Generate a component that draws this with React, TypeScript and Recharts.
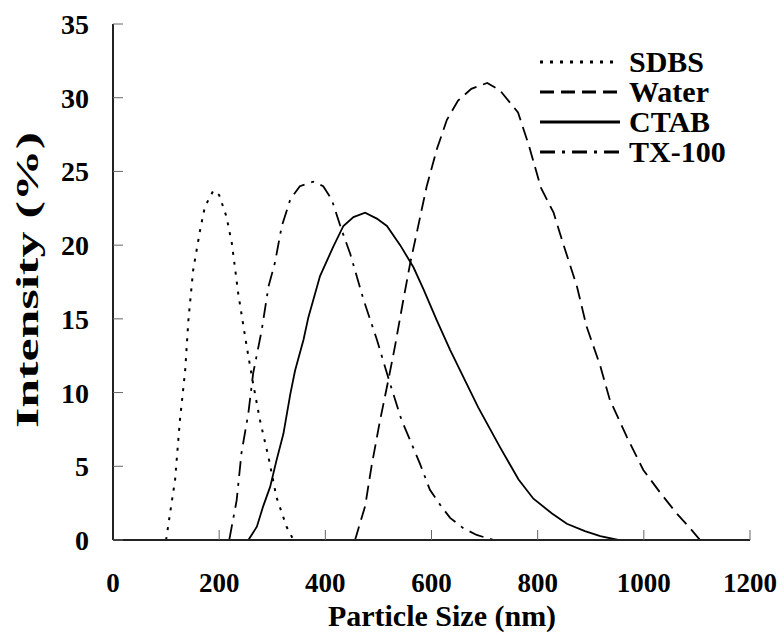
import { LineChart, Line, XAxis, YAxis } from 'recharts';

const sizeTicks = [0, 200, 400, 600, 800, 1000, 1200];
const intensityTicks = [0, 5, 10, 15, 20, 25, 30, 35];

const sdbsSize = [100, 117, 126, 136, 142, 151, 164, 173, 189, 200, 214, 224, 236, 252, 264, 277, 293, 308, 327, 340, 1200];
const sdbsIntensity = [0, 4.1, 8.1, 11.5, 14.9, 18.3, 21.0, 22.6, 23.7, 23.4, 21.9, 20.1, 16.7, 13.1, 10.6, 8.1, 5.6, 2.9, 0.9, 0, 0];

const waterSize = [100, 456, 475, 487, 503, 519, 531, 547, 560, 572, 591, 610, 629, 650, 675, 705, 729, 763, 784, 806, 830, 848, 874, 892, 918, 936, 968, 999, 1031, 1062, 1087, 1106, 1200];
const waterIntensity = [0, 0, 2.3, 5.0, 8.1, 10.9, 13.1, 16.3, 18.8, 20.8, 24.0, 26.5, 28.5, 29.8, 30.6, 31.0, 30.5, 29.0, 26.7, 23.9, 22.2, 20.1, 17.2, 14.5, 11.8, 9.5, 7.0, 4.75, 3.2, 1.8, 0.8, 0, 0];

const ctabSize = [100, 255, 271, 283, 296, 308, 321, 334, 343, 359, 368, 390, 415, 434, 453, 475, 497, 516, 541, 566, 585, 610, 635, 688, 729, 764, 792, 827, 855, 889, 918, 952, 1200];
const ctabIntensity = [0, 0, 0.9, 2.3, 3.6, 5.4, 7.2, 9.9, 11.5, 13.6, 15.1, 17.9, 19.9, 21.3, 21.9, 22.2, 21.8, 21.3, 20.0, 18.5, 17.0, 14.9, 12.9, 9.0, 6.3, 4.1, 2.8, 1.8, 1.1, 0.6, 0.27, 0, 0];

const txSize = [100, 219, 233, 242, 255, 264, 280, 293, 305, 318, 334, 352, 377, 396, 412, 431, 447, 472, 497, 522, 543, 578, 597, 616, 635, 660, 685, 717, 1200];
const txIntensity = [0, 0, 2.7, 5.9, 8.6, 11.3, 14.2, 17.2, 18.8, 21.3, 23.1, 24.0, 24.3, 24.0, 23.1, 21.0, 19.4, 16.3, 13.6, 10.6, 8.2, 5.2, 3.4, 2.4, 1.5, 0.8, 0.34, 0, 0];

const toPoints = (xs: number[], ys: number[]) => xs.map((x, i) => ({ size: x, value: ys[i] }));

const series = [
  { name: 'SDBS', data: toPoints(sdbsSize, sdbsIntensity), dash: '3 7', width: 2 },
  { name: 'Water', data: toPoints(waterSize, waterIntensity), dash: '14 7', width: 1.8 },
  { name: 'CTAB', data: toPoints(ctabSize, ctabIntensity), dash: undefined, width: 1.8 },
  { name: 'TX-100', data: toPoints(txSize, txIntensity), dash: '15 7 3 7', width: 1.8 },
];

const font = '"Liberation Serif", "Times New Roman", serif';

// legend drawn as an overlay so it doesn't eat into the plot area
function LegendBox() {
  return (
    <div style={{ position: 'absolute', left: 540, top: 47, fontFamily: font }}>
      {series.map((s) => (
        <div key={s.name} style={{ display: 'flex', alignItems: 'center', height: 30 }}>
          <svg width={89} height={10}>
            <line x1={0} y1={5} x2={80} y2={5} stroke="#000" strokeWidth={3} strokeDasharray={s.dash} />
          </svg>
          <span style={{ fontSize: 30, fontWeight: 'bold', lineHeight: '30px' }}>{s.name}</span>
        </div>
      ))}
    </div>
  );
}

export default function App() {
  return (
    <div style={{ position: 'absolute', left: 0, top: 0, width: 784, height: 635, background: '#fff' }}>
      <LineChart width={784} height={635} margin={{ top: 24, right: 34, left: 0, bottom: 0 }}>
        <XAxis
          type="number"
          dataKey="size"
          domain={[0, 1200]}
          ticks={sizeTicks}
          allowDuplicatedCategory={false}
          height={95}
          tickSize={-10}
          tickMargin={43}
          axisLine={{ stroke: '#222', strokeWidth: 2 }}
          tickLine={{ stroke: '#666', strokeWidth: 1 }}
          tick={{ fill: '#000', fontSize: 27, fontWeight: 'bold', fontFamily: font }}
          label={{
            content: () => (
              <text x={442} y={626} textAnchor="middle" fontSize={30} fontWeight="bold" fontFamily={font} fill="#000">
                Particle Size (nm)
              </text>
            ),
          }}
        />
        <XAxis xAxisId="top" orientation="top" type="number" domain={[0, 1200]} height={0} tick={false} tickLine={false} axisLine={{ stroke: '#222', strokeWidth: 2 }} />
        <YAxis
          type="number"
          domain={[0, 35]}
          ticks={intensityTicks}
          width={113}
          tickSize={-10}
          tickMargin={34}
          axisLine={{ stroke: '#222', strokeWidth: 2 }}
          tickLine={{ stroke: '#666', strokeWidth: 1 }}
          tick={{ fill: '#000', fontSize: 28, fontWeight: 'bold', fontFamily: font }}
          label={{
            content: () => (
              <text
                x={38}
                y={280}
                transform="rotate(-90 38 280)"
                textAnchor="middle"
                textLength={296}
                lengthAdjust="spacingAndGlyphs"
                fontSize={32}
                fontWeight="bold"
                fontFamily={font}
                fill="#000"
              >
                Intensity (%)
              </text>
            ),
          }}
        />
        <YAxis yAxisId="right" orientation="right" domain={[0, 35]} width={0} tick={false} tickLine={false} axisLine={{ stroke: '#222', strokeWidth: 2 }} />
        {series.map((s) => (
          <Line
            key={s.name}
            data={s.data}
            dataKey="value"
            name={s.name}
            type="linear"
            stroke="#000"
            strokeWidth={s.width}
            strokeDasharray={s.dash}
            dot={false}
            activeDot={false}
            isAnimationActive={false}
          />
        ))}
      </LineChart>
      <LegendBox />
    </div>
  );
}
